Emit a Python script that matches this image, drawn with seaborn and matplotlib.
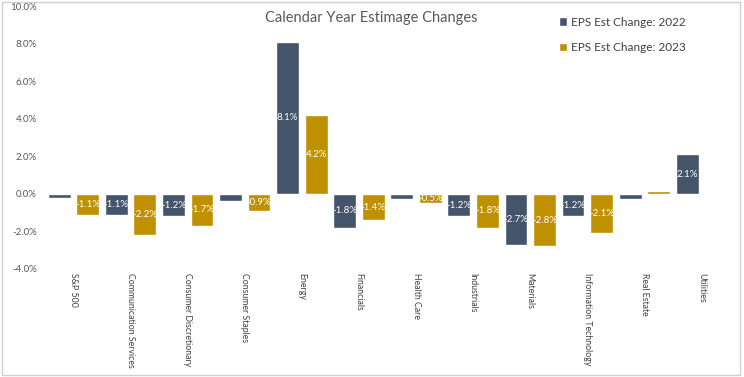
import pandas as pd
import matplotlib.pyplot as plt
import matplotlib.ticker as mticker
from matplotlib.patches import Rectangle
import seaborn as sns

sectors = ['S&P 500', 'Communication Services', 'Consumer Discretionary',
           'Consumer Staples', 'Energy', 'Financials', 'Health Care',
           'Industrials', 'Materials', 'Information Technology',
           'Real Estate', 'Utilities']
eps_2022 = [-0.2, -1.1, -1.2, -0.4, 8.1, -1.8, -0.3, -1.2, -2.7, -1.2, -0.3, 2.1]
eps_2023 = [-1.1, -2.2, -1.7, -0.9, 4.2, -1.4, -0.5, -1.8, -2.8, -2.1, 0.15, 0.05]
series = ['EPS Est Change: 2022', 'EPS Est Change: 2023']
colors = ['#44546A', '#BF9000']


def main():
    sns.set_style('white')
    plt.rcParams['font.family'] = ['Lato', 'DejaVu Sans']

    df = pd.DataFrame({
        'Sector': sectors * 2,
        'Change': eps_2022 + eps_2023,
        'Series': [series[0]] * len(sectors) + [series[1]] * len(sectors),
    })

    fig = plt.figure(figsize=(7.44, 3.77), dpi=100)
    ax = fig.add_axes([45 / 744, 1 - 269 / 377, 685 / 744, 263 / 377])

    sns.barplot(data=df, x='Sector', y='Change', hue='Series', palette=colors,
                width=1.0, gap=0.2, saturation=1, ax=ax)

    # etiquetas blancas dentro de las barras
    for cont, vals in zip(ax.containers, [eps_2022, eps_2023]):
        labels = [f'{v:.1f}%' if abs(v) >= 0.45 else '' for v in vals]
        ax.bar_label(cont, labels=labels, label_type='center',
                     color='white', fontsize=7)

    ax.set_ylim(-4, 10)
    ax.set_xlim(-0.5, 11.5)
    ax.set_yticks([-4, -2, 0, 2, 4, 6, 8, 10])
    ax.yaxis.set_major_formatter(mticker.FuncFormatter(lambda v, p: f'{v:.1f}%'))
    ax.set_xlabel('')
    ax.set_ylabel('')
    ax.tick_params(axis='y', labelsize=7, labelcolor='#595959', length=0, pad=6)
    ax.tick_params(axis='x', labelsize=6.3, labelcolor='#404040', length=0, pad=3)
    plt.setp(ax.get_xticklabels(), rotation=270, va='top', ha='center')
    sns.despine(ax=ax, left=True, bottom=True)

    ax.legend(loc='upper left', bbox_to_anchor=(0.735, 1.0), frameon=False,
              fontsize=8.5, handlelength=0.7, handleheight=0.7,
              handletextpad=0.3, labelspacing=1.2, labelcolor='#404040')

    fig.text(371 / 744, 1 - 18 / 377, 'Calendar Year Estimage Changes',
             ha='center', va='center', fontsize=10.5, color='#595959')

    fig.patches.append(Rectangle((0.003, 0.005), 0.992, 0.99, transform=fig.transFigure,
                                 fill=False, edgecolor='#d0d0d0', linewidth=1))

    fig.savefig('out.png', dpi=100)
    plt.close()


if __name__ == '__main__':
    main()
